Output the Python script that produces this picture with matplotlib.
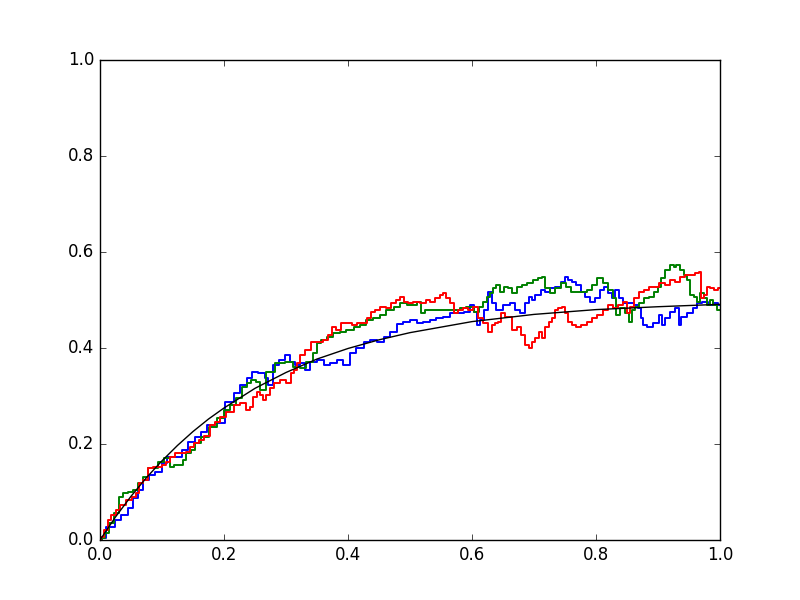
import matplotlib
matplotlib.use("Agg")
import matplotlib.pyplot as plt

plt.style.use("classic")

# three simulated paths (blue, green, red)
blue_t = [0.0, 0.002, 0.018, 0.029, 0.040, 0.050, 0.058, 0.066, 0.074, 0.085, 0.094, 0.105,
          0.110, 0.126, 0.137, 0.147, 0.158, 0.169, 0.177, 0.194, 0.210, 0.221, 0.231, 0.242,
          0.247, 0.263, 0.269, 0.274, 0.285, 0.294, 0.303, 0.310, 0.318, 0.327, 0.334, 0.344,
          0.355, 0.366, 0.376, 0.387, 0.398, 0.408, 0.419, 0.431, 0.440, 0.452, 0.463, 0.473,
          0.484, 0.495, 0.505, 0.516, 0.527, 0.537, 0.548, 0.560, 0.569, 0.581, 0.592, 0.600,
          0.605, 0.610, 0.616, 0.624, 0.629, 0.634, 0.645, 0.656, 0.665, 0.674, 0.682, 0.689,
          0.694, 0.698, 0.706, 0.715, 0.721, 0.729, 0.739, 0.747, 0.753, 0.758, 0.766, 0.771,
          0.779, 0.787, 0.795, 0.803, 0.810, 0.815, 0.823, 0.827, 0.834, 0.839, 0.847, 0.855,
          0.866, 0.871, 0.874, 0.876, 0.887, 0.898, 0.906, 0.908, 0.916, 0.924, 0.932, 0.935,
          0.940, 0.952, 0.960, 0.965, 0.976, 0.984, 0.995, 1.0]
blue_y = [0.0, 0.004, 0.027, 0.042, 0.052, 0.067, 0.088, 0.104, 0.125, 0.135, 0.142, 0.160,
          0.173, 0.173, 0.188, 0.204, 0.215, 0.225, 0.240, 0.244, 0.288, 0.306, 0.323, 0.338,
          0.350, 0.348, 0.338, 0.323, 0.365, 0.375, 0.385, 0.371, 0.365, 0.369, 0.354, 0.371,
          0.375, 0.365, 0.369, 0.375, 0.365, 0.390, 0.400, 0.413, 0.417, 0.413, 0.423, 0.433,
          0.450, 0.454, 0.458, 0.452, 0.454, 0.458, 0.463, 0.465, 0.473, 0.473, 0.475, 0.490,
          0.475, 0.448, 0.458, 0.479, 0.517, 0.494, 0.479, 0.490, 0.494, 0.479, 0.473, 0.494,
          0.506, 0.500, 0.510, 0.521, 0.517, 0.525, 0.527, 0.538, 0.548, 0.542, 0.538, 0.531,
          0.517, 0.506, 0.496, 0.504, 0.521, 0.527, 0.515, 0.504, 0.521, 0.504, 0.494, 0.494,
          0.490, 0.483, 0.463, 0.448, 0.444, 0.452, 0.469, 0.448, 0.463, 0.475, 0.483, 0.448,
          0.465, 0.473, 0.483, 0.494, 0.496, 0.490, 0.494, 0.490]

green_t = [0.0, 0.005, 0.010, 0.018, 0.026, 0.034, 0.040, 0.050, 0.058, 0.066, 0.074, 0.082,
           0.090, 0.098, 0.110, 0.115, 0.123, 0.131, 0.137, 0.142, 0.150, 0.158, 0.169, 0.182,
           0.194, 0.205, 0.215, 0.223, 0.234, 0.239, 0.247, 0.255, 0.261, 0.274, 0.290, 0.306,
           0.318, 0.327, 0.339, 0.347, 0.352, 0.360, 0.371, 0.382, 0.392, 0.403, 0.415, 0.424,
           0.435, 0.447, 0.456, 0.468, 0.479, 0.489, 0.500, 0.505, 0.516, 0.521, 0.527, 0.537,
           0.548, 0.565, 0.576, 0.585, 0.597, 0.608, 0.616, 0.621, 0.626, 0.632, 0.637, 0.642,
           0.648, 0.656, 0.661, 0.669, 0.677, 0.685, 0.694, 0.702, 0.710, 0.715, 0.721, 0.729,
           0.739, 0.747, 0.755, 0.763, 0.771, 0.782, 0.790, 0.798, 0.806, 0.815, 0.823, 0.831,
           0.835, 0.842, 0.850, 0.855, 0.860, 0.866, 0.874, 0.882, 0.890, 0.898, 0.903, 0.908,
           0.916, 0.923, 0.927, 0.932, 0.939, 0.944, 0.948, 0.955, 0.960, 0.965, 0.971, 0.976,
           0.981, 0.987, 0.992, 0.997, 1.0]
green_y = [0.0, 0.004, 0.015, 0.035, 0.056, 0.090, 0.098, 0.100, 0.104, 0.119, 0.131, 0.150,
           0.150, 0.162, 0.171, 0.152, 0.156, 0.156, 0.167, 0.181, 0.188, 0.202, 0.215, 0.235,
           0.254, 0.271, 0.281, 0.296, 0.319, 0.327, 0.333, 0.329, 0.312, 0.350, 0.369, 0.371,
           0.360, 0.358, 0.371, 0.390, 0.410, 0.417, 0.423, 0.431, 0.433, 0.438, 0.444, 0.448,
           0.458, 0.463, 0.469, 0.479, 0.485, 0.494, 0.490, 0.490, 0.496, 0.473, 0.479, 0.479,
           0.479, 0.479, 0.479, 0.483, 0.485, 0.475, 0.485, 0.496, 0.506, 0.515, 0.525, 0.531,
           0.517, 0.527, 0.525, 0.515, 0.527, 0.531, 0.535, 0.542, 0.546, 0.548, 0.525, 0.515,
           0.525, 0.535, 0.527, 0.517, 0.517, 0.517, 0.521, 0.531, 0.546, 0.535, 0.521, 0.504,
           0.469, 0.483, 0.473, 0.454, 0.479, 0.485, 0.494, 0.504, 0.506, 0.517, 0.527, 0.546,
           0.562, 0.573, 0.569, 0.573, 0.562, 0.552, 0.542, 0.510, 0.506, 0.496, 0.515, 0.504,
           0.490, 0.500, 0.490, 0.479, 0.479]

red_t = [0.0, 0.002, 0.010, 0.016, 0.021, 0.029, 0.037, 0.048, 0.056, 0.061, 0.066, 0.074,
         0.082, 0.089, 0.097, 0.102, 0.110, 0.115, 0.126, 0.134, 0.142, 0.147, 0.155, 0.163,
         0.174, 0.182, 0.190, 0.198, 0.210, 0.221, 0.231, 0.239, 0.245, 0.250, 0.255, 0.261,
         0.266, 0.271, 0.277, 0.285, 0.295, 0.306, 0.310, 0.315, 0.319, 0.327, 0.335, 0.347,
         0.355, 0.363, 0.371, 0.376, 0.384, 0.392, 0.403, 0.411, 0.419, 0.427, 0.435, 0.440,
         0.448, 0.456, 0.465, 0.473, 0.481, 0.487, 0.495, 0.500, 0.511, 0.521, 0.529, 0.537,
         0.545, 0.552, 0.556, 0.561, 0.568, 0.573, 0.581, 0.589, 0.597, 0.605, 0.613, 0.621,
         0.629, 0.634, 0.640, 0.645, 0.650, 0.656, 0.661, 0.669, 0.677, 0.682, 0.689, 0.694,
         0.698, 0.705, 0.710, 0.715, 0.721, 0.726, 0.731, 0.737, 0.742, 0.747, 0.753, 0.758,
         0.763, 0.771, 0.782, 0.790, 0.798, 0.806, 0.815, 0.823, 0.831, 0.839, 0.847, 0.852,
         0.858, 0.866, 0.874, 0.882, 0.890, 0.898, 0.906, 0.915, 0.923, 0.931, 0.939, 0.947,
         0.955, 0.963, 0.968, 0.971, 0.976, 0.981, 0.987, 0.995, 1.0]
red_y = [0.0, 0.006, 0.021, 0.042, 0.052, 0.062, 0.073, 0.083, 0.090, 0.098, 0.119, 0.125,
         0.150, 0.152, 0.152, 0.156, 0.162, 0.173, 0.181, 0.181, 0.183, 0.194, 0.202, 0.208,
         0.217, 0.240, 0.246, 0.256, 0.267, 0.281, 0.285, 0.271, 0.277, 0.298, 0.308, 0.302,
         0.292, 0.302, 0.317, 0.327, 0.333, 0.327, 0.348, 0.354, 0.369, 0.385, 0.396, 0.412,
         0.412, 0.417, 0.427, 0.444, 0.438, 0.452, 0.452, 0.448, 0.452, 0.452, 0.462, 0.475,
         0.479, 0.485, 0.483, 0.494, 0.500, 0.506, 0.496, 0.494, 0.496, 0.494, 0.500, 0.496,
         0.504, 0.510, 0.515, 0.504, 0.494, 0.473, 0.479, 0.483, 0.479, 0.485, 0.462, 0.452,
         0.433, 0.448, 0.452, 0.454, 0.473, 0.465, 0.465, 0.438, 0.444, 0.427, 0.406, 0.400,
         0.412, 0.421, 0.433, 0.421, 0.444, 0.454, 0.462, 0.479, 0.483, 0.485, 0.473, 0.454,
         0.448, 0.444, 0.448, 0.454, 0.462, 0.469, 0.479, 0.490, 0.483, 0.490, 0.496, 0.473,
         0.485, 0.504, 0.517, 0.521, 0.527, 0.527, 0.535, 0.531, 0.542, 0.538, 0.548, 0.552,
         0.552, 0.556, 0.558, 0.504, 0.510, 0.527, 0.525, 0.521, 0.525]

# smooth mean curve
mean_t = [0.0, 0.025, 0.05, 0.075, 0.1, 0.125, 0.15, 0.175, 0.2, 0.25, 0.3, 0.35, 0.4,
          0.45, 0.5, 0.6, 0.7, 0.8, 0.9, 1.0]
mean_y = [0.0, 0.048, 0.091, 0.130, 0.165, 0.197, 0.226, 0.252, 0.275, 0.316, 0.349, 0.377,
          0.399, 0.417, 0.432, 0.455, 0.470, 0.480, 0.486, 0.491]

fig, ax = plt.subplots(figsize=(8, 6), dpi=100)
ax.plot(blue_t, blue_y, color="b", lw=1.4, drawstyle="steps-mid")
ax.plot(green_t, green_y, color="g", lw=1.4, drawstyle="steps-mid")
ax.plot(red_t, red_y, color="r", lw=1.4, drawstyle="steps-mid")
ax.plot(mean_t, mean_y, color="k")
ax.set_xlim(0, 1)
ax.set_ylim(0, 1)

fig.savefig("out.png", dpi=100)
